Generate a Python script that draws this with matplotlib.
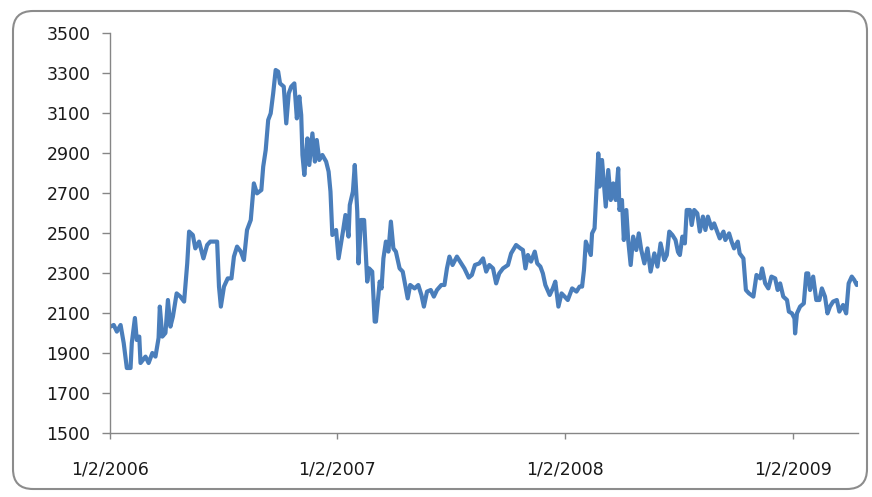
import matplotlib
matplotlib.use("Agg")
import matplotlib.pyplot as plt
import matplotlib.transforms as mtransforms
from matplotlib.patches import FancyBboxPatch
import pandas as pd

# Daily index level, sampled trading days
dates = [
    "2006-01-02", "2006-01-08", "2006-01-13", "2006-01-19", "2006-01-24", "2006-01-29",
    "2006-02-04", "2006-02-06", "2006-02-11", "2006-02-14", "2006-02-18", "2006-02-20",
    "2006-02-28", "2006-03-05", "2006-03-11", "2006-03-16", "2006-03-21", "2006-03-23",
    "2006-03-27", "2006-04-01", "2006-04-05", "2006-04-09", "2006-04-13", "2006-04-19",
    "2006-04-25", "2006-05-01", "2006-05-06", "2006-05-09", "2006-05-15", "2006-05-19",
    "2006-05-25", "2006-06-01", "2006-06-07", "2006-06-12", "2006-06-18", "2006-06-23",
    "2006-06-26", "2006-06-29", "2006-07-04", "2006-07-10", "2006-07-16", "2006-07-20",
    "2006-07-25", "2006-07-31", "2006-08-05", "2006-08-10", "2006-08-16", "2006-08-21",
    "2006-08-26", "2006-09-02", "2006-09-05", "2006-09-09", "2006-09-13", "2006-09-17",
    "2006-09-21", "2006-09-25", "2006-09-29", "2006-10-02", "2006-10-08", "2006-10-12",
    "2006-10-16", "2006-10-20", "2006-10-25", "2006-10-29", "2006-11-02", "2006-11-05",
    "2006-11-07", "2006-11-10", "2006-11-15", "2006-11-18", "2006-11-23", "2006-11-27",
    "2006-11-30", "2006-12-04", "2006-12-09", "2006-12-15", "2006-12-19", "2006-12-22",
    "2006-12-25", "2006-12-31",
    "2007-01-04", "2007-01-11", "2007-01-15", "2007-01-20", "2007-01-22", "2007-01-27",
    "2007-01-30", "2007-02-03", "2007-02-05", "2007-02-09", "2007-02-14", "2007-02-19",
    "2007-02-22", "2007-02-27", "2007-03-03", "2007-03-05", "2007-03-11", "2007-03-14",
    "2007-03-17", "2007-03-21", "2007-03-25", "2007-03-29", "2007-04-02", "2007-04-06",
    "2007-04-12", "2007-04-17", "2007-04-21", "2007-04-25", "2007-04-29", "2007-05-06",
    "2007-05-12", "2007-05-17", "2007-05-21", "2007-05-26", "2007-06-01", "2007-06-06",
    "2007-06-11", "2007-06-18", "2007-06-23", "2007-06-27", "2007-07-01", "2007-07-06",
    "2007-07-13", "2007-07-20", "2007-07-25", "2007-08-01", "2007-08-06", "2007-08-11",
    "2007-08-18", "2007-08-24", "2007-08-29", "2007-09-03", "2007-09-09", "2007-09-14",
    "2007-09-19", "2007-09-25", "2007-10-03", "2007-10-08", "2007-10-16", "2007-10-23",
    "2007-10-27", "2007-10-31", "2007-11-04", "2007-11-09", "2007-11-15", "2007-11-19",
    "2007-11-24", "2007-11-28", "2007-12-02", "2007-12-09", "2007-12-14", "2007-12-18",
    "2007-12-23", "2007-12-28",
    "2008-01-02", "2008-01-07", "2008-01-14", "2008-01-21", "2008-01-26", "2008-01-30",
    "2008-02-02", "2008-02-05", "2008-02-10", "2008-02-13", "2008-02-15", "2008-02-19",
    "2008-02-21", "2008-02-25", "2008-02-27", "2008-03-02", "2008-03-05", "2008-03-08",
    "2008-03-12", "2008-03-16", "2008-03-20", "2008-03-24", "2008-03-28", "2008-03-30",
    "2008-04-03", "2008-04-06", "2008-04-10", "2008-04-13", "2008-04-17", "2008-04-21",
    "2008-04-26", "2008-04-30", "2008-05-04", "2008-05-09", "2008-05-14", "2008-05-19",
    "2008-05-25", "2008-05-30", "2008-06-04", "2008-06-10", "2008-06-14", "2008-06-18",
    "2008-06-23", "2008-06-28", "2008-07-02", "2008-07-05", "2008-07-09", "2008-07-13",
    "2008-07-16", "2008-07-21", "2008-07-24", "2008-07-28", "2008-08-02", "2008-08-06",
    "2008-08-11", "2008-08-15", "2008-08-19", "2008-08-25", "2008-08-29", "2008-09-02",
    "2008-09-07", "2008-09-13", "2008-09-16", "2008-09-22", "2008-09-26", "2008-09-30",
    "2008-10-06", "2008-10-09", "2008-10-15", "2008-10-19", "2008-10-24", "2008-10-31",
    "2008-11-05", "2008-11-11", "2008-11-14", "2008-11-19", "2008-11-24", "2008-11-29",
    "2008-12-05", "2008-12-09", "2008-12-13", "2008-12-18", "2008-12-24", "2008-12-27",
    "2009-01-01", "2009-01-05", "2009-01-06", "2009-01-09", "2009-01-14", "2009-01-20",
    "2009-01-24", "2009-01-27", "2009-01-30", "2009-02-04", "2009-02-09", "2009-02-14",
    "2009-02-18", "2009-02-23", "2009-02-27", "2009-03-03", "2009-03-08", "2009-03-14",
    "2009-03-18", "2009-03-24", "2009-03-29", "2009-04-02", "2009-04-07", "2009-04-11",
    "2009-04-15", "2009-04-17",
]

prices = [
    2031, 2040, 2007, 2040, 1950, 1825,
    1825, 1950, 2075, 1965, 1982, 1850,
    1882, 1850, 1900, 1882, 1975, 2132,
    1982, 2000, 2165, 2032, 2082, 2198,
    2182, 2157, 2348, 2507, 2490, 2423,
    2457, 2373, 2440, 2457, 2457, 2457,
    2232, 2132, 2232, 2273, 2273, 2382,
    2432, 2407, 2365, 2515, 2565, 2748,
    2698, 2715, 2832, 2915, 3065, 3098,
    3198, 3315, 3307, 3248, 3232, 3048,
    3198, 3232, 3248, 3073, 3182, 3090,
    2890, 2790, 2973, 2840, 2998, 2857,
    2965, 2865, 2890, 2857, 2807, 2707,
    2490, 2515,
    2373, 2507, 2590, 2482, 2640, 2707,
    2840, 2607, 2348, 2565, 2565, 2257,
    2323, 2307, 2057, 2057, 2257, 2223,
    2373, 2457, 2407, 2557, 2423, 2407,
    2323, 2307, 2240, 2173, 2240, 2223,
    2240, 2190, 2132, 2207, 2215, 2182,
    2215, 2240, 2240, 2323, 2382, 2340,
    2382, 2348, 2323, 2277, 2290, 2340,
    2348, 2373, 2307, 2340, 2323, 2248,
    2298, 2323, 2340, 2398, 2440, 2423,
    2415, 2323, 2390, 2357, 2407, 2348,
    2332, 2298, 2240, 2190, 2223, 2257,
    2132, 2198,
    2182, 2165, 2223, 2207, 2232, 2232,
    2315, 2457, 2415, 2390, 2498, 2523,
    2648, 2898, 2732, 2865, 2748, 2632,
    2815, 2665, 2748, 2665, 2823, 2615,
    2665, 2465, 2615, 2465, 2340, 2482,
    2415, 2498, 2415, 2348, 2423, 2307,
    2398, 2332, 2448, 2365, 2390, 2507,
    2490, 2465, 2405, 2390, 2482, 2448,
    2615, 2615, 2540, 2615, 2598, 2507,
    2582, 2515, 2582, 2523, 2548, 2515,
    2473, 2507, 2465, 2498, 2457, 2423,
    2457, 2398, 2373, 2215, 2198, 2182,
    2290, 2273, 2323, 2248, 2223, 2282,
    2273, 2215, 2248, 2182, 2165, 2107,
    2098, 2073, 1998, 2098, 2132, 2148,
    2298, 2298, 2215, 2282, 2165, 2165,
    2223, 2182, 2098, 2132, 2157, 2165,
    2107, 2140, 2098, 2248, 2282, 2265,
    2240, 2250,
]

x_tick_dates = ["2006-01-02", "2007-01-02", "2008-01-02", "2009-01-02"]
x_tick_labels = ["1/2/2006", "1/2/2007", "1/2/2008", "1/2/2009"]
y_ticks = [1500, 1700, 1900, 2100, 2300, 2500, 2700, 2900, 3100, 3300, 3500]

W, H = 872, 497
axis_grey = "#868686"

fig = plt.figure(figsize=(W / 100, H / 100), dpi=100)
fig.patch.set_facecolor("white")

ax = fig.add_axes([110 / W, 64 / H, 748 / W, 400 / H])
ax.plot(pd.to_datetime(dates), prices, color="#4a7ebb", lw=3.0,
        solid_joinstyle="round", solid_capstyle="round")

ax.set_xlim(pd.Timestamp(dates[0]), pd.Timestamp(dates[-1]))
ax.set_ylim(y_ticks[0], y_ticks[-1])
ax.set_yticks(y_ticks)
ax.set_yticklabels([str(v) for v in y_ticks])
ax.set_xticks(pd.to_datetime(x_tick_dates))
ax.set_xticklabels(x_tick_labels)

for side in ("top", "right"):
    ax.spines[side].set_visible(False)
for side in ("left", "bottom"):
    ax.spines[side].set_color(axis_grey)
    ax.spines[side].set_linewidth(1.0)

ax.tick_params(axis="y", direction="out", length=6, width=1.0, color=axis_grey,
               pad=8, labelsize=12.5, labelcolor="#1a1a1a")
ax.tick_params(axis="x", direction="out", length=4.5, width=1.0, color=axis_grey,
               pad=15, labelsize=12.5, labelcolor="#1a1a1a")

# Rounded chart-area border, drawn in pixel space
border = FancyBboxPatch((13, 8), 854, 478,
                        boxstyle="round,pad=0,rounding_size=20",
                        transform=mtransforms.IdentityTransform(),
                        facecolor="none", edgecolor="#8c8c8c", lw=1.5)
fig.add_artist(border)

fig.savefig("out.png", dpi=100, facecolor="white")
